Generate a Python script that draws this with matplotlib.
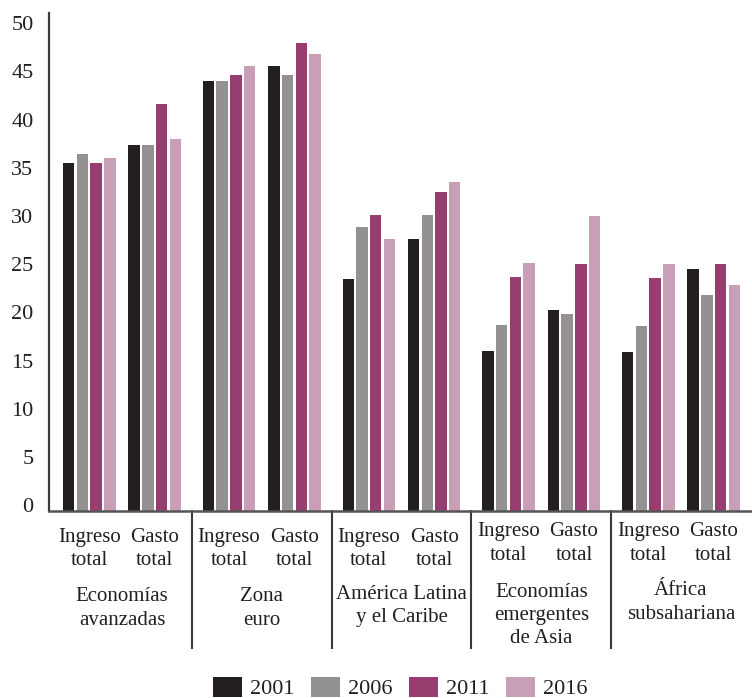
import numpy as np
import matplotlib.pyplot as plt
import matplotlib.transforms as mtransforms

plt.rcParams['font.family'] = ['Liberation Serif', 'DejaVu Serif']

# regions and the two measures shown for each one
regions = ['Economías\navanzadas', 'Zona\neuro', 'América Latina\ny el Caribe',
           'Economías\nemergentes\nde Asia', 'África\nsubsahariana']
measures = ['Ingreso\ntotal', 'Gasto\ntotal']
years = ['2001', '2006', '2011', '2016']

# percent of GDP, one row per year, columns follow regions x measures
ingreso = np.array([
    [36.1, 44.6, 24.1, 16.6, 16.5],   # 2001
    [37.0, 44.6, 29.5, 19.3, 19.2],   # 2006
    [36.1, 45.2, 30.7, 24.3, 24.2],   # 2011
    [36.6, 46.2, 28.2, 25.7, 25.6],   # 2016
])
gasto = np.array([
    [38.0, 46.2, 28.2, 20.9, 25.1],   # 2001
    [38.0, 45.2, 30.7, 20.5, 22.4],   # 2006
    [42.2, 48.5, 33.1, 25.6, 25.6],   # 2011
    [38.6, 47.4, 34.1, 30.6, 23.5],   # 2016
])

colors = ['#231f20', '#939192', '#953e6f', '#c99fb8']
txt = '#231f20'

fig = plt.figure(figsize=(7.52, 6.98), dpi=100)
ax = fig.add_axes([0.0658, 0.2672, 0.9342, 0.7142])

x = np.arange(len(regions))
half = 0.234
pitch = 0.098
width = 0.082

for k, year in enumerate(years):
    off = (k - 1.5) * pitch
    ax.bar(x - half + off, ingreso[k], width, color=colors[k], label=year)
    ax.bar(x + half + off, gasto[k], width, color=colors[k])

ax.set_xlim(-0.519, 4.508)
ax.set_ylim(0, 51.66)
ax.set_yticks(np.arange(0, 51, 5))
ax.set_xticks([])
ax.tick_params(axis='y', length=0, pad=11.5, labelsize=16, labelcolor=txt)

# tick labels sit a little above their values
shift = mtransforms.ScaledTranslation(0, 6 / 100, fig.dpi_scale_trans)
for lab in ax.get_yticklabels():
    lab.set_transform(lab.get_transform() + shift)

for s in ['top', 'right']:
    ax.spines[s].set_visible(False)
ax.spines['left'].set_color('#3a3a3a')
ax.spines['left'].set_linewidth(1.6)
ax.spines['bottom'].set_color('#555555')
ax.spines['bottom'].set_linewidth(1.8)

# vertical separators between regions, below the axis
trans = ax.get_xaxis_transform()
ax_h = 0.7142 * 698
for i in range(len(regions) - 1):
    ax.plot([i + 0.5, i + 0.5], [0, -137 / ax_h], transform=trans,
            color='#3a3a3a', lw=1.5, clip_on=False)

# label heights below the baseline, in pixels
measure_drop = [37.5, 37.5, 37.5, 32.0, 32.0]
region_drop = [97.0, 97.0, 94.5, 104.0, 91.0]

for i in range(len(regions)):
    for j, m in enumerate(measures):
        ax.annotate(m, xy=(x[i] + (2 * j - 1) * half, 0),
                    xycoords=('data', 'axes fraction'),
                    xytext=(0, -measure_drop[i]), textcoords='offset pixels',
                    ha='center', va='center', fontsize=15, color=txt,
                    linespacing=1.3)
    ax.annotate(regions[i], xy=(x[i], 0), xycoords=('data', 'axes fraction'),
                xytext=(0, -region_drop[i]), textcoords='offset pixels',
                ha='center', va='center', fontsize=15, color=txt,
                linespacing=1.3)

fig.legend(loc='center', bbox_to_anchor=(0.532, 0.0143), ncol=4,
           frameon=False, fontsize=16, handlelength=1.3, handleheight=0.99,
           handletextpad=0.36, columnspacing=0.75, borderpad=0,
           labelcolor=txt)

fig.savefig('out.png', dpi=100)
